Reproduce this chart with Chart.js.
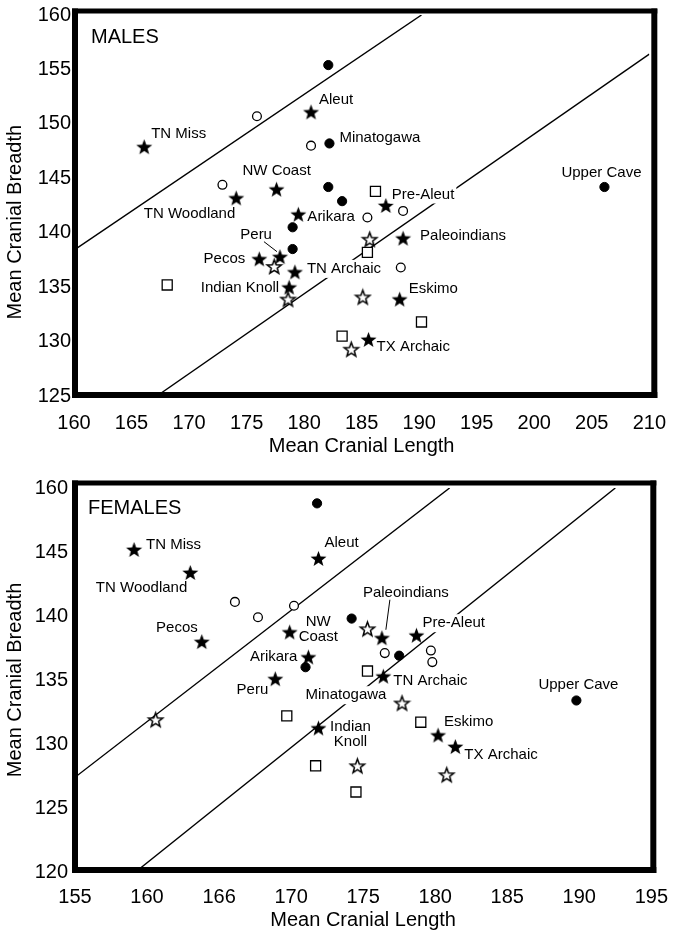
<!DOCTYPE html>
<html><head><meta charset="utf-8">
<script src="https://cdn.jsdelivr.net/npm/chart.js@4.4.1/dist/chart.umd.min.js"></script>
<style>
html,body{margin:0;padding:0;background:#fff;}
canvas{display:block;}
</style></head>
<body>
<canvas id="c1" width="681" height="460"></canvas>
<canvas id="c2" width="681" height="472"></canvas>
<script>
// ---------------- DATA: MALES ----------------
const maleXTickValues = [160,165,170,175,180,185,190,195,200,205,210];
const maleXTickLabels = ["160","165","170","175","180","185","190","195","200","205","210"];
const maleYTickValues = [125,130,135,140,145,150,155,160];
const maleYTickLabels = ["125","130","135","140","145","150","155","160"];

const maleStarNames   = ["TN Miss","Aleut","NW Coast","TN Woodland","Arikara","Peru","Pecos","TN Archaic","Indian Knoll","Pre-Aleut","Paleoindians","Eskimo","TX Archaic"];
const maleStarLength  = [166.1,180.6,177.6,174.1,179.5,177.9,176.1,179.2,178.7,187.1,188.6,188.3,185.6];
const maleStarBreadth = [147.9,151.1,144.0,143.2,141.7,137.8,137.6,136.4,135.0,142.5,139.5,133.9,130.2];

const maleFilledCircleNames   = ["","Minatogawa","","","","","Upper Cave"];
const maleFilledCircleLength  = [182.1,182.2,182.1,183.3,179.0,179.0,206.1];
const maleFilledCircleBreadth = [155.4,148.2,144.2,142.9,140.5,138.5,144.2];

const maleOpenCircleLength  = [175.9,180.6,172.9,185.5,188.6,188.4];
const maleOpenCircleBreadth = [150.7,148.0,144.4,141.4,142.0,136.8];

const maleOpenStarLength  = [177.4,178.6,185.7,185.1,184.1];
const maleOpenStarBreadth = [136.9,133.9,139.4,134.1,129.3];

const maleOpenSquareLength  = [168.1,186.2,185.5,190.2,183.3];
const maleOpenSquareBreadth = [135.2,143.8,138.2,131.8,130.5];

const maleUpperLineLength  = [160.0,190.2];
const maleUpperLineBreadth = [138.4,160.0];
const maleLowerLineLength  = [167.2,210.0];
const maleLowerLineBreadth = [125.0,156.4];

// ---------------- DATA: FEMALES ----------------
const femaleXTickValues = [155,160,165,170,175,180,185,190,195];
const femaleXTickLabels = ["155","160","166","170","175","180","185","190","195"];
const femaleYTickValues = [120,125,130,135,140,145,150];
const femaleYTickLabels = ["120","125","130","135","140","145","160"];

const femaleStarNames   = ["TN Miss","Aleut","TN Woodland","Pecos","NW Coast","Arikara","Peru","Paleoindians","Pre-Aleut","TN Archaic","Indian Knoll","Eskimo","TX Archaic"];
const femaleStarLength  = [159.1,171.9,163.0,163.8,169.9,171.2,168.9,176.3,178.7,176.4,171.9,180.2,181.4];
const femaleStarBreadth = [145.2,144.5,143.4,138.0,138.75,136.8,135.1,138.3,138.5,135.3,131.25,130.7,129.8];

const femaleFilledCircleNames   = ["","Minatogawa","","","Upper Cave"];
const femaleFilledCircleLength  = [171.8,171.0,174.2,177.5,189.8];
const femaleFilledCircleBreadth = [148.8,136.0,139.8,136.9,133.4];

const femaleOpenCircleLength  = [166.1,167.7,170.2,176.5,179.7,179.8];
const femaleOpenCircleBreadth = [141.1,139.9,140.8,137.1,137.3,136.4];

const femaleOpenStarLength  = [160.6,175.3,177.7,174.6,180.8];
const femaleOpenStarBreadth = [131.9,139.0,133.2,128.3,127.6];

const femaleOpenSquareLength  = [175.3,169.7,171.7,179.0,174.5];
const femaleOpenSquareBreadth = [135.7,132.2,128.3,131.7,126.25];

const femaleUpperLineLength  = [155.0,181.0];
const femaleUpperLineBreadth = [127.4,150.0];
const femaleLowerLineLength  = [159.2,192.5];
const femaleLowerLineBreadth = [120.0,150.0];

// ---------------- LABEL PLACEMENT (pixel offsets from the marker) ----------------
const maleLabelPlacement = {
  "TN Miss":{dx:7,dy:-13}, "Aleut":{dx:8,dy:-12}, "NW Coast":{dx:-34,dy:-18},
  "TN Woodland":{dx:-1,dy:16,align:"right"}, "Arikara":{dx:9,dy:3},
  "Peru":{dx:-8,dy:-22,align:"right",leader:[-16,-15,-3,-5]},
  "Pecos":{dx:-14,dy:0,align:"right"}, "TN Archaic":{dx:12,dy:-3,knock:true},
  "Indian Knoll":{dx:-10,dy:1,align:"right"}, "Pre-Aleut":{dx:6,dy:-11,knock:true},
  "Paleoindians":{dx:17,dy:-2}, "Eskimo":{dx:9,dy:-10}, "TX Archaic":{dx:8,dy:7},
  "Minatogawa":{dx:10,dy:-6}, "Upper Cave":{dx:-43,dy:-14}
};
const femaleLabelPlacement = {
  "TN Miss":{dx:12,dy:-5}, "Aleut":{dx:6,dy:-16},
  "TN Woodland":{dx:-3,dy:15,align:"right"}, "Pecos":{dx:-4,dy:-14,align:"right"},
  "NW Coast":{lines:[[16,-10],[9,5]]}, "Arikara":{dx:-11,dy:0,align:"right"},
  "Peru":{dx:-7,dy:11,align:"right"},
  "Paleoindians":{dx:-19,dy:-45,leader:[8,-38,4,-8]},
  "Pre-Aleut":{dx:6,dy:-12,knock:true}, "TN Archaic":{dx:10,dy:5},
  "Indian Knoll":{align:"center",lines:[[32,-1],[32,14]]},
  "Eskimo":{dx:6,dy:-13}, "TX Archaic":{dx:9,dy:8},
  "Minatogawa":{dx:0,dy:28,knock:true}, "Upper Cave":{dx:-38,dy:-16}
};

// ---------------- RENDERING ----------------
const FONT = '"Liberation Sans", Arial, Helvetica, sans-serif';

function starCanvas(outer, innerRatio, filled, lw) {
  const size = Math.ceil(outer * 2 + 4);
  const c = document.createElement('canvas');
  c.width = size; c.height = size;
  const g = c.getContext('2d');
  const cx = size / 2, cy = size / 2 + outer * 0.095;
  g.beginPath();
  for (let i = 0; i < 10; i++) {
    const r = (i % 2) ? outer * innerRatio : outer;
    const a = -Math.PI / 2 + i * Math.PI / 5;
    g.lineTo(cx + r * Math.cos(a), cy + r * Math.sin(a));
  }
  g.closePath();
  if (filled) { g.fillStyle = '#000'; g.fill(); }
  else { g.fillStyle = '#fff'; g.fill(); g.lineWidth = lw; g.strokeStyle = '#000'; g.lineJoin = 'miter'; g.stroke(); }
  return c;
}
const filledStar = starCanvas(8.4, 0.42, true, 0);
const openStar = starCanvas(7.5, 0.42, false, 1.5);

const pts = (xs, ys) => xs.map((x, i) => ({x: x, y: ys[i]}));

function buildLabels(names, xs, ys, placement) {
  const out = [];
  names.forEach((n, i) => {
    if (!n || !placement[n]) return;
    out.push(Object.assign({name: n, x: xs[i], y: ys[i]}, placement[n]));
  });
  return out;
}

const framePlugin = {
  id: 'frame',
  afterDatasetsDraw(chart, args, o) {
    const a = chart.chartArea, ctx = chart.ctx;
    const L = a.left + o.l, R = a.right + o.r, T = a.top + o.t, B = a.bottom + o.b;
    const w = o.w;
    ctx.save();
    ctx.fillStyle = '#000';
    ctx.fillRect(L - w/2, T - w/2, R - L + w, w - 1);      // top
    ctx.fillRect(L - w/2, B - w/2, R - L + w, w);          // bottom
    ctx.fillRect(L - w/2, T - w/2, w, B - T + w);          // left
    ctx.fillRect(R - w/2, T - w/2, w, B - T + w);          // right
    ctx.restore();
  }
};

const labelPlugin = {
  id: 'ptLabels',
  afterDatasetsDraw(chart, args, o) {
    const ctx = chart.ctx, xs = chart.scales.x, ys = chart.scales.y;
    ctx.save();
    ctx.font = '15px ' + FONT;
    ctx.textBaseline = 'middle';
    ctx.fillStyle = '#000';
    ctx.strokeStyle = '#000';
    ctx.lineWidth = 1;
    for (const lab of o.labels) {
      const px = xs.getPixelForValue(lab.x), py = ys.getPixelForValue(lab.y);
      const align = lab.align || 'left';
      const pieces = lab.lines ? lab.name.split(' ').map((t, k) => ({t: t, dx: lab.lines[k][0], dy: lab.lines[k][1]}))
                               : [{t: lab.name, dx: lab.dx, dy: lab.dy}];
      for (const p of pieces) {
        const w = ctx.measureText(p.t).width;
        let tx = px + p.dx;
        let left = align === 'right' ? tx - w : align === 'center' ? tx - w/2 : tx;
        const ty = py + p.dy;
        if (lab.knock) {
          ctx.fillStyle = '#fff';
          ctx.fillRect(left - 2, ty - 9, w + 4, 18);
          ctx.fillStyle = '#000';
        }
        ctx.textAlign = 'left';
        ctx.fillText(p.t, left, ty);
      }
      if (lab.leader) {
        ctx.beginPath();
        ctx.moveTo(px + lab.leader[0], py + lab.leader[1]);
        ctx.lineTo(px + lab.leader[2], py + lab.leader[3]);
        ctx.stroke();
      }
    }
    // panel caption
    ctx.font = '20px ' + FONT;
    ctx.textAlign = 'left';
    ctx.fillText(o.caption, chart.chartArea.left + o.capDx, chart.chartArea.top + o.capDy);
    ctx.restore();
  }
};

function makeChart(id, d) {
  const lineDs = (xs, ys) => ({
    data: pts(xs, ys), showLine: true, borderColor: '#000', borderWidth: 1.4,
    pointRadius: 0, fill: false, order: 10
  });
  return new Chart(document.getElementById(id), {
    type: 'scatter',
    data: {
      datasets: [
        lineDs(d.l1x, d.l1y),
        lineDs(d.l2x, d.l2y),
        {label: 'open squares', data: pts(d.sqx, d.sqy), pointStyle: 'rect', pointRadius: 7.1,
         backgroundColor: '#fff', borderColor: '#000', borderWidth: 1.3, order: 3},
        {label: 'open circles', data: pts(d.ocx, d.ocy), pointStyle: 'circle', pointRadius: 4.4,
         backgroundColor: '#fff', borderColor: '#000', borderWidth: 1.3, order: 3},
        {label: 'open stars', data: pts(d.osx, d.osy), pointStyle: openStar, order: 2},
        {label: 'filled circles', data: pts(d.fcx, d.fcy), pointStyle: 'circle', pointRadius: 4.6,
         backgroundColor: '#000', borderColor: '#000', borderWidth: 1, order: 1},
        {label: 'filled stars', data: pts(d.fsx, d.fsy), pointStyle: filledStar, order: 0}
      ]
    },
    options: {
      responsive: false, animation: false, events: [],
      layout: {padding: d.pad},
      plugins: {
        legend: {display: false}, tooltip: {enabled: false},
        frame: d.frame,
        ptLabels: {labels: d.labels, caption: d.caption, capDx: d.capDx, capDy: d.capDy}
      },
      scales: {
        x: {
          type: 'linear', min: d.xv[0], max: d.xv[d.xv.length - 1],
          afterBuildTicks: s => { s.ticks = d.xv.map(v => ({value: v})); },
          afterFit: s => { s.height = d.xh; },
          grid: {display: false, drawTicks: false}, border: {display: false},
          ticks: {autoSkip: false, maxRotation: 0, padding: d.xpad, color: '#000',
                  font: {family: FONT, size: 20}, callback: (v, i) => d.xl[i]},
          title: {display: true, text: 'Mean Cranial Length', color: '#000',
                  font: {family: FONT, size: 20}, padding: {top: 0, bottom: d.xtp}}
        },
        y: {
          type: 'linear', min: d.yv[0], max: d.yv[d.yv.length - 1],
          afterBuildTicks: s => { s.ticks = d.yv.map(v => ({value: v})); },
          afterFit: s => { s.width = d.yw; },
          grid: {display: false, drawTicks: false}, border: {display: false},
          ticks: {autoSkip: false, padding: d.ypad, color: '#000',
                  font: {family: FONT, size: 20}, callback: (v, i) => d.yl[i]},
          title: {display: true, text: d.ytitle, color: '#000',
                  font: {family: FONT, size: 20}, padding: {top: 3, bottom: 0}}
        }
      }
    },
    plugins: [framePlugin, labelPlugin]
  });
}

makeChart('c1', {
  l1x: maleUpperLineLength, l1y: maleUpperLineBreadth,
  l2x: maleLowerLineLength, l2y: maleLowerLineBreadth,
  sqx: maleOpenSquareLength, sqy: maleOpenSquareBreadth,
  ocx: maleOpenCircleLength, ocy: maleOpenCircleBreadth,
  osx: maleOpenStarLength, osy: maleOpenStarBreadth,
  fcx: maleFilledCircleLength, fcy: maleFilledCircleBreadth,
  fsx: maleStarLength, fsy: maleStarBreadth,
  labels: buildLabels(maleStarNames, maleStarLength, maleStarBreadth, maleLabelPlacement)
          .concat(buildLabels(maleFilledCircleNames, maleFilledCircleLength, maleFilledCircleBreadth, maleLabelPlacement)),
  caption: 'MALES', capDx: 17, capDy: 22,
  xv: maleXTickValues, xl: maleXTickLabels, yv: maleYTickValues, yl: maleYTickLabels,
  pad: {left: 0, right: 20, top: 13, bottom: 0},
  xh: 64, yw: 74, xpad: 15, ypad: 3, xtp: 2,
  ytitle: 'Mean Cranial Breadth\u00A0\u00A0\u00A0\u00A0\u00A0\u00A0',
  frame: {l: 1, r: 5, t: -3.5, b: -1, w: 6}
});

makeChart('c2', {
  l1x: femaleUpperLineLength, l1y: femaleUpperLineBreadth,
  l2x: femaleLowerLineLength, l2y: femaleLowerLineBreadth,
  sqx: femaleOpenSquareLength, sqy: femaleOpenSquareBreadth,
  ocx: femaleOpenCircleLength, ocy: femaleOpenCircleBreadth,
  osx: femaleOpenStarLength, osy: femaleOpenStarBreadth,
  fcx: femaleFilledCircleLength, fcy: femaleFilledCircleBreadth,
  fsx: femaleStarLength, fsy: femaleStarBreadth,
  labels: buildLabels(femaleStarNames, femaleStarLength, femaleStarBreadth, femaleLabelPlacement)
          .concat(buildLabels(femaleFilledCircleNames, femaleFilledCircleLength, femaleFilledCircleBreadth, femaleLabelPlacement)),
  caption: 'FEMALES', capDx: 13, capDy: 20,
  xv: femaleXTickValues, xl: femaleXTickLabels, yv: femaleYTickValues, yl: femaleYTickLabels,
  pad: {left: 0, right: 18, top: 28, bottom: 0},
  xh: 60, yw: 75, xpad: 13, ypad: 7, xtp: 0,
  ytitle: 'Mean Cranial Breadth',
  frame: {l: 0, r: 2, t: -4.5, b: -2, w: 6}
});
</script>
</body></html>
